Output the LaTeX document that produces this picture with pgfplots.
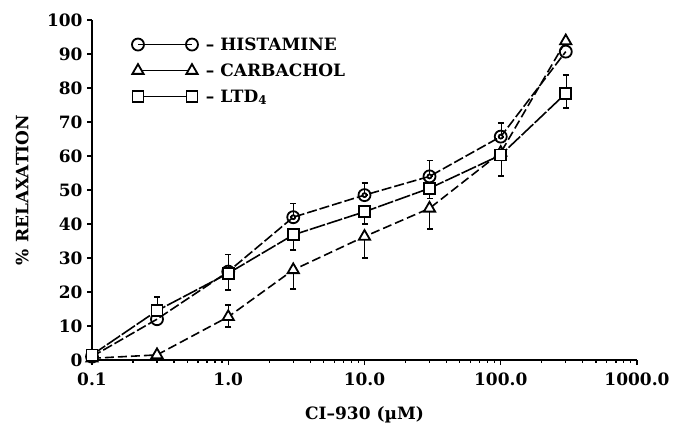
\documentclass[border=0pt]{standalone}
\usepackage{pgfplots}
\pgfplotsset{compat=1.18}
\usepackage{fontspec}
\setmainfont{DejaVu Serif}
\newcommand{\lbl}{\bfseries\fontsize{17bp}{19bp}\selectfont}

\pgfplotstableread{
x     y
0.1   1.0
0.3   12.0
1     26.0
3     42.0
10    48.5
30    54.0
100   65.7
300   90.7
}\histamine
\pgfplotstableread{
x     y
0.1   0.5
0.3   1.5
1     12.7
3     26.5
10    36.3
30    44.6
100   61.0
300   93.8
}\carbachol
\pgfplotstableread{
x     y
0.1   1.5
0.3   14.5
1     25.5
3     36.8
10    43.6
30    50.5
100   60.3
300   78.4
}\ltd
% error bars: value, plus, minus
\pgfplotstableread{
x     y     ep    em
0.1   1.5   1.5   1.5
0.3   14.5  4.0   0
1     26.0  5.0   0
1     25.5  0     5.0
1     12.7  3.5   3.0
3     42.0  4.0   0
3     36.8  0     4.5
3     26.5  0     5.5
10    48.5  3.5   0
10    43.6  0     3.5
10    36.3  0     6.3
30    54.0  4.7   0
30    50.5  0     3.0
30    44.6  0     6.0
100   65.7  4.0   0
100   61.0  0     7.0
300   78.4  5.4   4.4
}\errs

\begin{document}
\begin{tikzpicture}
\useasboundingbox (-92bp,-67bp) rectangle (581bp,360bp);
\begin{axis}[
  scale only axis, width=545bp, height=340bp,
  xmode=log, xmin=0.1, xmax=1000, ymin=0, ymax=100,
  axis lines*=left,
  axis line style={line width=1.5bp},
  xtick={0.1,1,10,100,1000},
  xticklabels={0.1,1.0,10.0,100.0,1000.0},
  minor xtick={},
  ytick={0,10,...,100},
  tick align=outside,
  major tick length=5bp,
  tick style={line width=1.3bp,black},
  /pgf/number format/assume math mode=true,
  every tick label/.append style={font=\lbl},
  xticklabel style={yshift=-4bp},
  yticklabel style={xshift=-1bp},
  clip=false,
  every axis x label/.style={at={(axis description cs:0.5,-0.162)},anchor=center},
  every axis y label/.style={at={(axis description cs:-0.128,0.5)},rotate=90,anchor=center},
  xlabel={\lbl CI--930 (µM)},
  ylabel={\lbl \% RELAXATION},
  legend style={at={(axis description cs:0.073,0.955)}, anchor=north west,
    draw=none, fill=none, inner sep=0pt, font=\lbl, row sep=8bp,
    /tikz/every odd column/.append style={column sep=6bp}},
  legend cell align=left,
  legend image code/.code={
    \draw[#1,solid] plot[mark=none] coordinates {(0bp,0bp) (54bp,0bp)};
    \draw[#1,solid] plot[only marks] coordinates {(0bp,0bp) (54bp,0bp)};
  },
  every axis plot/.append style={line width=1.6bp, black},
  mark options={solid, fill=white, line width=1.8bp},
]
% error bars (drawn first, hidden behind markers)
\addplot[forget plot, only marks, mark=none, line width=1.5bp,
  error bars/.cd, y dir=both, y explicit,
  error mark options={rotate=90, mark size=3bp, line width=1.8bp}]
  table[x=x, y=y, y error plus=ep, y error minus=em] {\errs};

\addplot[dash pattern=on 10bp off 3bp, mark=o, mark size=6bp] table[x=x,y=y] {\histamine};
\addlegendentry{-- HISTAMINE}
\addplot[dash pattern=on 9bp off 4bp, mark=triangle*, mark size=6.5bp] table[x=x,y=y] {\carbachol};
\addlegendentry{-- CARBACHOL}
\addplot[dash pattern=on 16bp off 2bp, mark=square*, mark size=5.5bp] table[x=x,y=y] {\ltd};
\addlegendentry{-- LTD\textsubscript{4}}
\end{axis}
\end{tikzpicture}
\end{document}
